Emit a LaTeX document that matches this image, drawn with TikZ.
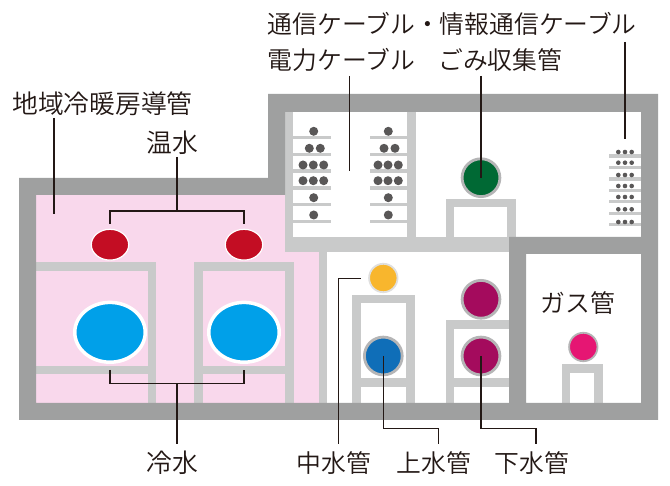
\documentclass[tikz,border=0pt]{standalone}
\usepackage{fontspec}
\setmainfont{Noto Sans CJK JP}[UprightFont=* DemiLight]
\usetikzlibrary{shapes.geometric}
\definecolor{wall}{HTML}{9FA0A0}
\definecolor{rack}{HTML}{C9CACA}
\definecolor{ring}{HTML}{B5B5B6}
\definecolor{pinkroom}{HTML}{F9D8EC}
\definecolor{ink}{HTML}{231815}
\definecolor{cable}{HTML}{595757}
\definecolor{gomicol}{RGB}{0,105,52}
\definecolor{hotcol}{RGB}{195,13,35}
\definecolor{coldcol}{RGB}{0,160,233}
\definecolor{chucol}{RGB}{248,182,45}
\definecolor{jocol}{RGB}{15,110,184}
\definecolor{gecol}{RGB}{164,11,93}
\definecolor{gascol}{RGB}{230,22,115}
\tikzset{
  x=1pt,y=-1pt,
  leader/.style={draw=ink,line width=1.2pt},
  lbl/.style={text=ink,inner sep=0pt,font=\fontsize{24.8}{28}\selectfont},
  lblbig/.style={text=ink,inner sep=0pt,font=\fontsize{25.8}{28}\selectfont},
  pipe/.style={circle,inner sep=0pt,minimum size=37.8pt,line width=2.8pt,draw=ring},
  smallpipe/.style={circle,inner sep=0pt,minimum size=28.4pt,line width=1.8pt,draw=ring},
  hotoval/.style={ellipse,inner sep=0pt,draw=white,fill=hotcol,minimum width=37.4pt,minimum height=30.8pt,line width=1.2pt},
  coldoval/.style={ellipse,inner sep=0pt,draw=white,fill=coldcol,minimum width=70.5pt,minimum height=59.8pt,line width=3.5pt},
  dot/.style={circle,fill=cable,inner sep=0pt,minimum size=9pt},
  tiny/.style={circle,fill=cable,inner sep=0pt,minimum size=4.6pt},
}
\begin{document}
\begin{tikzpicture}
\useasboundingbox (0,0) rectangle (670,486);
\fill[white] (0,0) rectangle (670,486);
% pink room
\fill[pinkroom] (36,195) rectangle (319,403);
\fill[white] (293,112) rectangle (407,237);
% racks
\fill[rack] (285,112) rectangle (293,252);
\fill[rack] (407,112) rectangle (416,237);
\fill[rack] (285,237) rectangle (512,252);
\fill[rack] (319,252) rectangle (327,403);
% left stands
\fill[rack] (36,262) rectangle (156.3,270.7);
\fill[rack] (36,365.7) rectangle (156.3,374);
\fill[rack] (147.7,262) rectangle (156.3,403);
\fill[rack] (194,262) rectangle (293.7,270.7);
\fill[rack] (194,365.7) rectangle (293.7,374);
\fill[rack] (194,262) rectangle (202.7,403);
\fill[rack] (285,262) rectangle (293.7,403);
% shelves
\foreach \a/\b in {136/139.5,152.7/156,169.3/172.7,186.3/189.7,203/206.3,219.7/223.3}{
  \fill[rack] (293,\a) rectangle (331,\b);
  \fill[rack] (370,\a) rectangle (407,\b);
}
\foreach \a/\b in {154.3/158,166/169.3,177.3/180.7,188.7/192,200/203.3,211.7/215,223/226.3}{
  \fill[rack] (609,\a) rectangle (641,\b);
}
% other stands
\fill[rack] (445.7,198.7) rectangle (515.7,207);
\fill[rack] (445.7,198.7) rectangle (454,237);
\fill[rack] (507,198.7) rectangle (515.7,237);
\fill[rack] (352,294.7) rectangle (414.7,303.3);
\fill[rack] (352,378) rectangle (414.7,386.7);
\fill[rack] (352,294.7) rectangle (360.7,403);
\fill[rack] (406,294.7) rectangle (414.7,403);
\fill[rack] (445.7,320) rectangle (509,328.7);
\fill[rack] (445.7,378) rectangle (509,386.7);
\fill[rack] (445.7,320) rectangle (454,403);
\fill[rack] (562,364) rectangle (602.7,372.7);
\fill[rack] (562,364) rectangle (570.3,403);
\fill[rack] (594.3,364) rectangle (602.7,403);
% walls
\fill[wall] (19,178) -- (268,178) -- (268,94) -- (658,94) -- (658,420) -- (19,420) -- cycle
  (36,195) -- (36,403) -- (509,403) -- (509,237) -- (641,237) -- (641,112) -- (285,112) -- (285,195) -- cycle
  (526,254) -- (526,403) -- (641,403) -- (641,254) -- cycle;
% cables
\foreach \y/\xs in {131.3/{313.7,388.3},148.3/{309.3,320.3,384,395},165/{303,313.3,323.7,378,388,398.3},180.7/{303,313.3,323.7,378,388,398.3},197.7/{313.7,388.3},215/{313.7,388.3}}{
  \foreach \x in \xs { \node[dot] at (\x,\y) {}; }
}
\foreach \y in {152,162.7,175,186,197,209.3,222}{
  \foreach \x in {618.3,625,631.7} { \node[tiny] at (\x,\y) {}; }
}
% pipes
\node[pipe,fill=gomicol] (gomi) at (481,177.7) {};
\node[hotoval] (hotl) at (110,244.7) {};
\node[hotoval] (hotr) at (244,244.7) {};
\node[coldoval] (coldl) at (110,332.3) {};
\node[coldoval] (coldr) at (244,332.3) {};
\node[smallpipe,fill=chucol,draw=rack!60] (chusui) at (383.3,278) {};
\node[pipe,fill=jocol] (josui) at (383.3,356) {};
\node[pipe,fill=gecol] (gesuia) at (481,299.3) {};
\node[pipe,fill=gecol] (gesui) at (481,356) {};
\node[smallpipe,fill=gascol] (gas) at (583.3,347) {};
% labels
\node[lbl,anchor=west] (tsushin) at (267.5,24) {通信ケーブル・情報通信ケーブル};
\node[lbl,anchor=west] (denryoku) at (267.5,60) {電力ケーブル};
\node[lbl,anchor=west] (gomil) at (438,60) {ごみ収集管};
\node[lblbig,anchor=west] (chiiki) at (12,104) {地域冷暖房導管};
\node[lblbig] (onsui) at (172.5,143) {温水};
\node[lblbig] (reisui) at (172.5,463) {冷水};
\node[lbl] (chul) at (334,463) {中水管};
\node[lbl] (jol) at (434,463) {上水管};
\node[lbl] (gel) at (532,463) {下水管};
\node[lbl] (gasl) at (578,303) {ガス管};
% leader ends
\coordinate (a1) at (349.5,76); \coordinate (a2) at (349.5,171);
\coordinate (b1) at (625,42); \coordinate (b2) at (625,139.5);
\coordinate (c1) at (54,118); \coordinate (c2) at (54,214);
\coordinate (d1) at (177,157); \coordinate (d2) at (177,211);
\coordinate (e2) at (177,383.5); \coordinate (e1) at (177,444);
\coordinate (f1) at (338.3,444); \coordinate (f2) at (360.7,278.3);
\coordinate (g1) at (438.3,444); \coordinate (h1) at (536,444);
\draw[leader] (a1) -- (a2);
\draw[leader] (b1) -- (b2);
\draw[leader] (c1) -- (c2);
\draw[leader] (481,76) -- (gomi.center);
\draw[leader] (d1) -- (d2);
\draw[leader] (hotl.center |- 0,224) |- (d2) -| (hotr.center |- 0,224);
\draw[leader] (coldl.center |- 0,370) |- (e2) -| (coldr.center |- 0,370);
\draw[leader] (e2) -- (e1);
\draw[leader] (f1) |- (f2);
\draw[leader] (josui.center) |- (438.3,428.3) -- (g1);
\draw[leader] (gesui.center) |- (536,428.3) -- (h1);
\end{tikzpicture}
\end{document}
